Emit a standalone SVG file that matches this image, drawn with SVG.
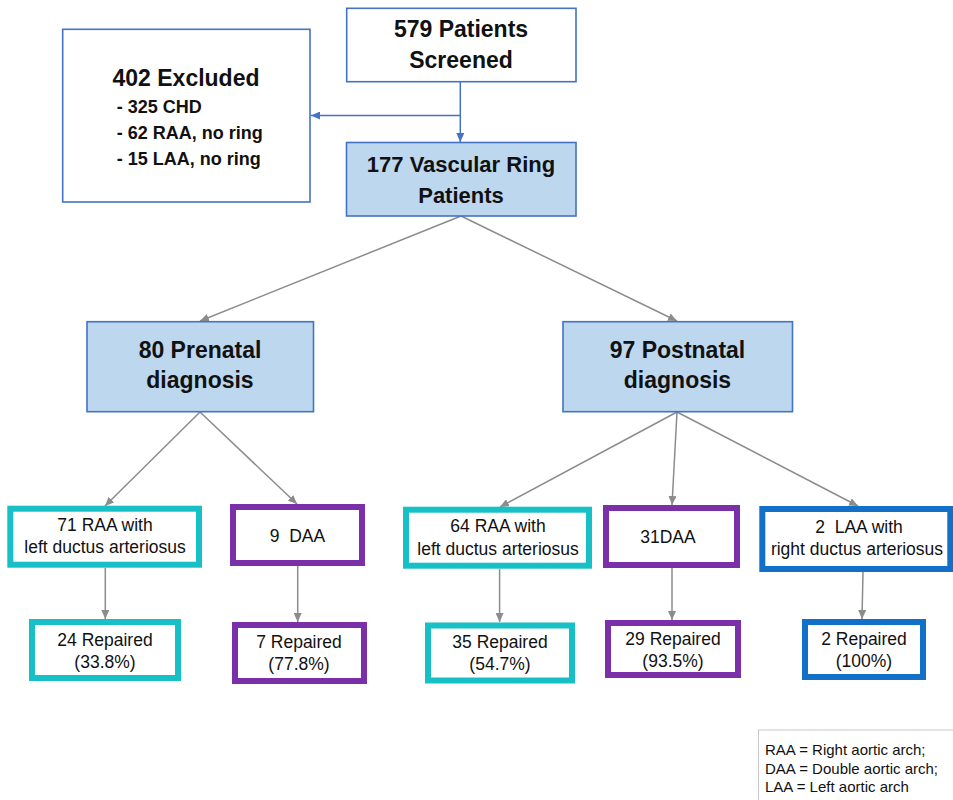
<svg xmlns="http://www.w3.org/2000/svg" width="953" height="800" viewBox="0 0 953 800">
<defs>
<marker id="ag" markerWidth="10" markerHeight="8" refX="9" refY="4" orient="auto" markerUnits="userSpaceOnUse"><path d="M0,0 L9,4 L0,8 z" fill="#8c8c8c"/></marker>
<marker id="ab" markerWidth="10" markerHeight="8" refX="9" refY="4" orient="auto" markerUnits="userSpaceOnUse"><path d="M0,0 L9,4 L0,8 z" fill="#4472c4"/></marker>
<style>
text{font-family:"Liberation Sans",Arial,sans-serif;fill:#111;text-anchor:middle;white-space:pre}
.h{font-weight:bold;font-size:22px}
.h23{font-weight:bold;font-size:23px}
.sub{font-weight:bold;font-size:18px;text-anchor:start}
.n{font-size:17.5px}
.leg{font-size:15px;text-anchor:start}
.plain{fill:#fff;stroke:#4472c4;stroke-width:1.6}
.main{fill:#bdd7ee;stroke:#4472c4;stroke-width:1.6}
.cy{fill:#fff;stroke:#17bfc7;stroke-width:6}
.pu{fill:#fff;stroke:#7a30a8;stroke-width:6}
.bl{fill:#fff;stroke:#1370c8;stroke-width:6}
.cg{stroke:#8c8c8c;stroke-width:1.5;fill:none;marker-end:url(#ag)}
.cb{stroke:#4472c4;stroke-width:1.5;fill:none;marker-end:url(#ab)}
</style>
</defs>
<g id="connectors">
<line class="cb" x1="460.3" y1="81.7" x2="460.3" y2="142"/>
<line class="cb" x1="460.3" y1="115.5" x2="311" y2="115.5"/>
<line class="cg" x1="461" y1="216" x2="200" y2="321"/>
<line class="cg" x1="461" y1="216" x2="677" y2="321"/>
<line class="cg" x1="200" y1="412" x2="105" y2="506"/>
<line class="cg" x1="200" y1="412" x2="297" y2="504"/>
<line class="cg" x1="677" y1="412" x2="500" y2="507"/>
<line class="cg" x1="677" y1="412" x2="672" y2="505"/>
<line class="cg" x1="677" y1="412" x2="858" y2="506"/>
<line class="cg" x1="105.3" y1="568" x2="105.3" y2="619"/>
<line class="cg" x1="297.7" y1="566" x2="297.7" y2="622"/>
<line class="cg" x1="499.6" y1="569" x2="499.6" y2="622"/>
<line class="cg" x1="672" y1="568" x2="672" y2="620"/>
<line class="cg" x1="863" y1="572" x2="862" y2="619"/>
</g>
<g id="screened">
<rect class="plain" x="346.7" y="8.3" width="229.3" height="73.4"/>
<text class="h23" x="461" y="37">579 Patients</text>
<text class="h23" x="461" y="68">Screened</text>
</g>
<g id="excluded">
<rect class="plain" x="62.7" y="29.3" width="247.3" height="172.7"/>
<text class="h23" x="186" y="86">402 Excluded</text>
<text class="sub" x="116.7" y="113">- 325 CHD</text>
<text class="sub" x="116.7" y="138.5">- 62 RAA, no ring</text>
<text class="sub" x="116.7" y="164.5">- 15 LAA, no ring</text>
</g>
<g id="vascular">
<rect class="main" x="346.5" y="142.5" width="229.5" height="73.5"/>
<text class="h" x="461" y="172">177 Vascular Ring</text>
<text class="h" x="461" y="203">Patients</text>
</g>
<g id="prenatal">
<rect class="main" x="87" y="321.7" width="226.5" height="90"/>
<text class="h23" x="200" y="358">80 Prenatal</text>
<text class="h23" x="200" y="388">diagnosis</text>
</g>
<g id="postnatal">
<rect class="main" x="563" y="321.7" width="229.5" height="90"/>
<text class="h23" x="677.5" y="358">97 Postnatal</text>
<text class="h23" x="677.5" y="388">diagnosis</text>
</g>
<g id="pre-raa">
<rect class="cy" x="10.3" y="508.7" width="188.7" height="56"/>
<text class="n" x="105" y="531">71 RAA with</text>
<text class="n" x="105" y="553">left ductus arteriosus</text>
</g>
<g id="pre-daa">
<rect class="pu" x="233" y="507" width="129" height="56"/>
<text class="n" x="297.5" y="542">9  DAA</text>
</g>
<g id="post-raa">
<rect class="cy" x="406" y="509.7" width="183" height="56"/>
<text class="n" x="498" y="532">64 RAA with</text>
<text class="n" x="498" y="555">left ductus arteriosus</text>
</g>
<g id="post-daa">
<rect class="pu" x="606" y="508" width="131" height="57"/>
<text class="n" x="668" y="543">31DAA</text>
</g>
<g id="post-laa">
<rect class="bl" x="762.3" y="509" width="188" height="60"/>
<text class="n" x="859" y="533">2  LAA with</text>
<text class="n" x="857" y="555">right ductus arteriosus</text>
</g>
<g id="pre-raa-rep">
<rect class="cy" x="32" y="622" width="146" height="56"/>
<text class="n" x="105" y="646">24 Repaired</text>
<text class="n" x="105" y="668">(33.8%)</text>
</g>
<g id="pre-daa-rep">
<rect class="pu" x="235" y="625" width="129" height="56"/>
<text class="n" x="299" y="648">7 Repaired</text>
<text class="n" x="299" y="670">(77.8%)</text>
</g>
<g id="post-raa-rep">
<rect class="cy" x="428" y="625.5" width="144" height="55"/>
<text class="n" x="500" y="648">35 Repaired</text>
<text class="n" x="500" y="670">(54.7%)</text>
</g>
<g id="post-daa-rep">
<rect class="pu" x="608" y="623" width="130" height="52"/>
<text class="n" x="673" y="645">29 Repaired</text>
<text class="n" x="673" y="667">(93.5%)</text>
</g>
<g id="post-laa-rep">
<rect class="bl" x="805" y="622" width="118" height="55"/>
<text class="n" x="864" y="645">2 Repaired</text>
<text class="n" x="864" y="667">(100%)</text>
</g>
<g id="legend">
<rect x="758.5" y="730" width="200" height="80" fill="#fff" stroke="#c8c8c8" stroke-width="1"/>
<text class="leg" x="765" y="755">RAA = Right aortic arch;</text>
<text class="leg" x="765" y="773.5">DAA = Double aortic arch;</text>
<text class="leg" x="765" y="792">LAA = Left aortic arch</text>
</g>
</svg>
